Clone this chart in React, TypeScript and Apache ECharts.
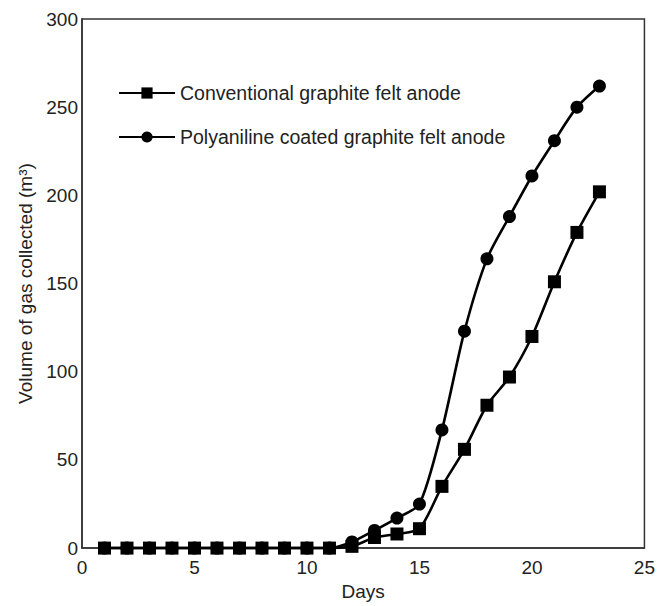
import React, { useEffect, useRef } from "react";
import * as echarts from "echarts";

const days = [1, 2, 3, 4, 5, 6, 7, 8, 9, 10, 11, 12, 13, 14, 15, 16, 17, 18, 19, 20, 21, 22, 23];
const conventional = [0, 0, 0, 0, 0, 0, 0, 0, 0, 0, 0, 1, 6, 8, 11, 35, 56, 81, 97, 120, 151, 179, 202];
const polyaniline = [0, 0, 0, 0, 0, 0, 0, 0, 0, 0, 0, 3.5, 10, 17, 25, 67, 123, 164, 188, 211, 231, 250, 262];
const seriesNames = ["Conventional graphite felt anode", "Polyaniline coated graphite felt anode"];

const FONT = "'Liberation Sans', Arial, Helvetica, sans-serif";

export default function App() {
  const ref = useRef<HTMLDivElement>(null);
  useEffect(() => {
    if (!ref.current) return;
    const chart = echarts.init(ref.current, undefined, { renderer: "svg" });
    const axisLine = { show: true, lineStyle: { color: "#333", width: 1.5 } };
    chart.setOption({
      animation: false,
      backgroundColor: "#fff",
      textStyle: { fontFamily: FONT },
      grid: {
        left: 82,
        right: 12,
        top: 19,
        bottom: 51,
        show: true,
        borderColor: "#333",
        borderWidth: 1.5,
        backgroundColor: "transparent",
      },
      legend: {
        orient: "vertical",
        left: 118,
        top: 83,
        padding: 0,
        itemWidth: 56,
        itemHeight: 14,
        itemGap: 24,
        textStyle: { fontSize: 19.5, color: "#222", fontFamily: FONT },
        data: seriesNames,
      },
      xAxis: {
        type: "value",
        min: 0,
        max: 25,
        interval: 5,
        name: "Days",
        nameLocation: "middle",
        nameGap: 33.5,
        nameTextStyle: { fontSize: 19, color: "#222" },
        axisLine,
        axisTick: { show: false },
        splitLine: { show: false },
        axisLabel: { fontSize: 19, color: "#222", margin: 10 },
      },
      yAxis: {
        type: "value",
        min: 0,
        max: 300,
        interval: 50,
        name: "Volume of gas collected (m³)",
        nameLocation: "middle",
        nameGap: 44.5,
        nameTextStyle: { fontSize: 19, color: "#222" },
        axisLine,
        axisTick: { show: false },
        splitLine: { show: false },
        axisLabel: { fontSize: 19, color: "#222", margin: 4 },
      },
      series: [
        {
          name: seriesNames[0],
          type: "line",
          data: days.map((d, i) => [d, conventional[i]]),
          symbol: "rect",
          symbolSize: 13,
          smooth: 0.25,
          z: 4,
          lineStyle: { color: "#000", width: 2.6 },
          itemStyle: { color: "#000" },
        },
        {
          name: seriesNames[1],
          type: "line",
          data: days.map((d, i) => [d, polyaniline[i]]),
          symbol: "circle",
          symbolSize: 13,
          smooth: 0.25,
          z: 3,
          lineStyle: { color: "#000", width: 2.6 },
          itemStyle: { color: "#000" },
        },
      ],
    });
    return () => chart.dispose();
  }, []);
  return (
    <div
      ref={ref}
      style={{ position: "absolute", left: 0, top: 0, width: 658, height: 606 }}
    />
  );
}
